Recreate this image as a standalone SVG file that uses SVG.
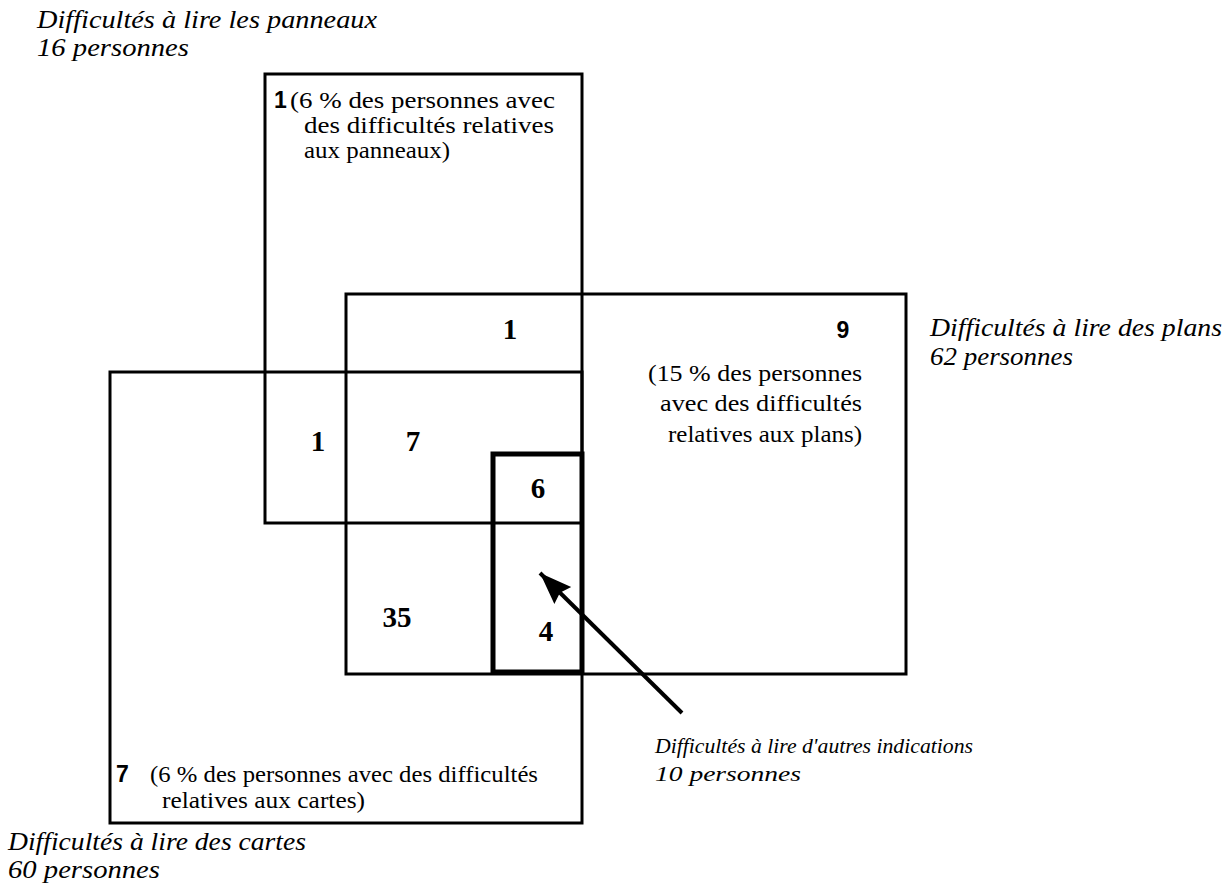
<svg xmlns="http://www.w3.org/2000/svg" width="1228" height="884" viewBox="0 0 1228 884">
<style>
.box{fill:none;stroke:#000;stroke-width:3}
.thick{fill:none;stroke:#000;stroke-width:5}
.lbl{font-family:"Liberation Serif",serif;font-style:italic;font-size:25px;fill:#000}
.lbs{font-family:"Liberation Serif",serif;font-style:italic;font-size:22px;fill:#000}
.txt{font-family:"Liberation Serif",serif;font-size:24px;fill:#000}
.num{font-family:"Liberation Serif",serif;font-weight:bold;font-size:29px;fill:#000;text-anchor:middle}
.sn{font-family:"Liberation Sans",sans-serif;font-weight:bold;font-size:23px;fill:#000}
</style>
<defs>
<marker id="ah" markerUnits="userSpaceOnUse" markerWidth="34" markerHeight="26" refX="32" refY="12" orient="auto">
<polygon points="0,0 32,12 0,24 4,12" fill="#000"/>
</marker>
</defs>
<rect width="1228" height="884" fill="#fff"/>
<g id="panneaux">
<rect class="box" x="265" y="74" width="317" height="449"/>
<text class="sn" x="274" y="108">1</text>
<text class="txt" x="290" y="108" textLength="265" lengthAdjust="spacingAndGlyphs">(6 % des personnes avec</text>
<text class="txt" x="304" y="133" textLength="250" lengthAdjust="spacingAndGlyphs">des difficultés relatives</text>
<text class="txt" x="304" y="158" textLength="146" lengthAdjust="spacingAndGlyphs">aux panneaux)</text>
<text class="lbl" x="37" y="28" textLength="340" lengthAdjust="spacingAndGlyphs">Difficultés à lire les panneaux</text>
<text class="lbl" x="37" y="56" textLength="152" lengthAdjust="spacingAndGlyphs">16 personnes</text>
</g>
<g id="plans">
<rect class="box" x="346" y="294" width="560" height="380"/>
<text class="sn" x="843" y="338" text-anchor="middle">9</text>
<text class="txt" x="862" y="381" text-anchor="end" textLength="214" lengthAdjust="spacingAndGlyphs">(15 % des personnes</text>
<text class="txt" x="862" y="411" text-anchor="end" textLength="202" lengthAdjust="spacingAndGlyphs">avec  des difficultés</text>
<text class="txt" x="862" y="442" text-anchor="end" textLength="194" lengthAdjust="spacingAndGlyphs">relatives aux plans)</text>
<text class="lbl" x="930" y="336" textLength="292" lengthAdjust="spacingAndGlyphs">Difficultés à lire des plans</text>
<text class="lbl" x="930" y="365" textLength="143" lengthAdjust="spacingAndGlyphs">62 personnes</text>
</g>
<g id="cartes">
<rect class="box" x="110" y="372" width="472" height="451"/>
<text class="sn" x="116" y="782">7</text>
<text class="txt" x="150" y="782" textLength="388" lengthAdjust="spacingAndGlyphs">(6 % des personnes avec des difficultés</text>
<text class="txt" x="162" y="808" textLength="203" lengthAdjust="spacingAndGlyphs">relatives aux cartes)</text>
<text class="lbl" x="8" y="850" textLength="298" lengthAdjust="spacingAndGlyphs">Difficultés à lire des cartes</text>
<text class="lbl" x="8" y="878" textLength="152" lengthAdjust="spacingAndGlyphs">60 personnes</text>
</g>
<g id="autres">
<rect class="thick" x="493" y="454" width="89" height="218"/>
<text class="lbs" x="655" y="753" textLength="318" lengthAdjust="spacingAndGlyphs">Difficultés à lire d'autres indications</text>
<text class="lbs" x="655" y="781" textLength="146" lengthAdjust="spacingAndGlyphs">10 personnes</text>
</g>
<g id="counts">
<text class="num" x="510" y="339">1</text>
<text class="num" x="318" y="451">1</text>
<text class="num" x="413" y="451">7</text>
<text class="num" x="538" y="498">6</text>
<text class="num" x="397" y="627">35</text>
<text class="num" x="546" y="641">4</text>
</g>
<g id="connectors">
<line x1="682" y1="713" x2="540" y2="573" stroke="#000" stroke-width="4" marker-end="url(#ah)"/>
</g>
</svg>
